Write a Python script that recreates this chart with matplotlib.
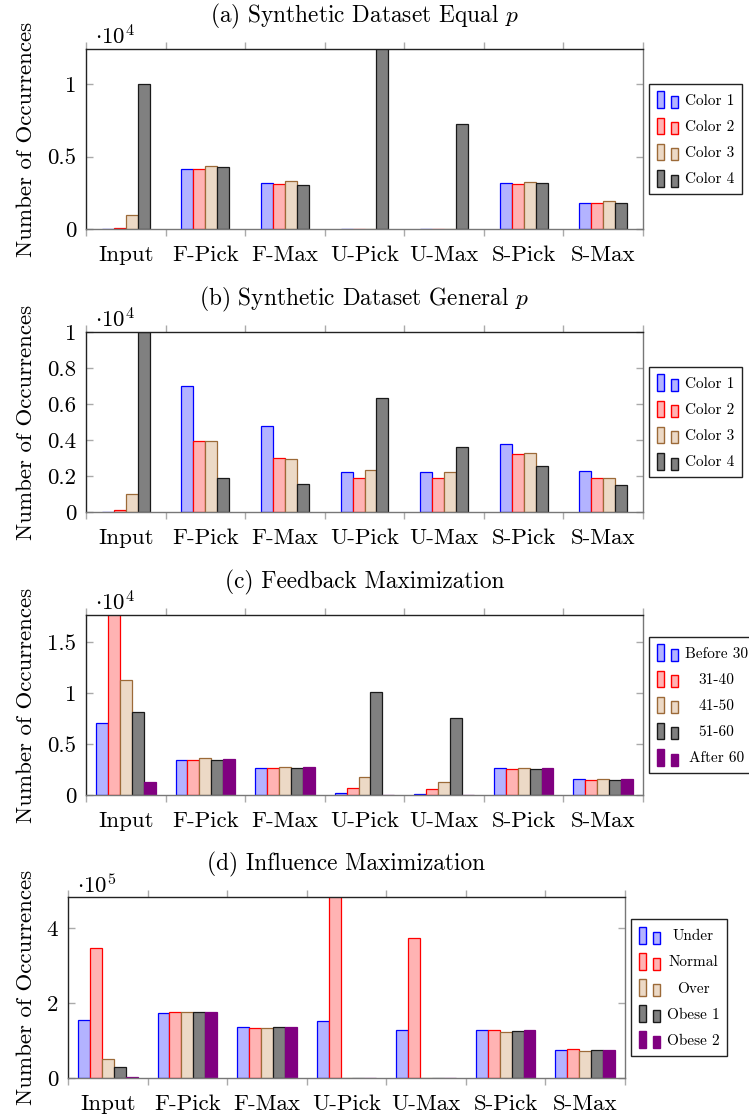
import numpy as np
import matplotlib
matplotlib.use('Agg')
import matplotlib.pyplot as plt
from matplotlib.container import BarContainer
from matplotlib.legend_handler import HandlerBase
from matplotlib.patches import Rectangle
from matplotlib.ticker import FuncFormatter

plt.rcParams['font.family'] = ['cmr10', 'DejaVu Serif']
plt.rcParams['mathtext.fontset'] = 'cm'
plt.rcParams['axes.formatter.use_mathtext'] = True

methods = ['Input', 'F-Pick', 'F-Max', 'U-Pick', 'U-Max', 'S-Pick', 'S-Max']

# (a) synthetic data, equal p
color1_a = [20, 4180, 3150, 15, 10, 3210, 1820]
color2_a = [90, 4130, 3120, 10, 10, 3080, 1790]
color3_a = [970, 4360, 3300, 10, 10, 3260, 1920]
color4_a = [10000, 4270, 3060, 12500, 7280, 3150, 1820]

# (b) synthetic data, general p
color1_b = [10, 7020, 4790, 2240, 2240, 3800, 2260]
color2_b = [130, 3940, 3000, 1890, 1890, 3220, 1890]
color3_b = [1000, 3940, 2940, 2330, 2200, 3260, 1890]
color4_b = [10000, 1870, 1560, 6310, 3590, 2570, 1500]

# (c) feedback maximization, age groups
before30 = [7060, 3430, 2650, 160, 100, 2610, 1570]
age31_40 = [17800, 3430, 2650, 690, 590, 2550, 1500]
age41_50 = [11240, 3590, 2750, 1760, 1240, 2610, 1570]
age51_60 = [8100, 3430, 2680, 10130, 7550, 2550, 1500]
after60 = [1240, 3560, 2750, 30, 30, 2610, 1570]

# (d) influence maximization, BMI groups
under = [154000, 174000, 134500, 152000, 128000, 129000, 75000]
normal = [345000, 176000, 133000, 490000, 374000, 128000, 76000]
over = [50000, 175000, 133000, 500, 500, 122000, 72000]
obese1 = [29000, 176000, 134500, 300, 300, 124000, 74000]
obese2 = [3600, 176000, 134500, 200, 200, 126500, 74000]

styles = [('#B3B3FF', '#0000FF'), ('#FFB3B3', '#FF0000'), ('#ECD9C6', '#9C6A38'),
          ('#808080', '#1A1A1A'), ('#800080', '#800080')]


class TwoBarHandler(HandlerBase):
    # pgfplots-like ybar legend image: a tall bar and a shorter one
    def create_artists(self, legend, orig_handle, xdescent, ydescent, width, height, fontsize, trans):
        patch = orig_handle.patches[0]
        fc, ec = patch.get_facecolor(), patch.get_edgecolor()
        w = width * 0.33
        r1 = Rectangle((-xdescent, -ydescent), w, height, fc=fc, ec=ec, lw=1, transform=trans)
        r2 = Rectangle((-xdescent + width - w, -ydescent), w, height * 0.72, fc=fc, ec=ec, lw=1,
                       transform=trans)
        return [r1, r2]


panels = [
    ('(a) Synthetic Dataset Equal $p$', [color1_a, color2_a, color3_a, color4_a],
     ['Color 1', 'Color 2', 'Color 3', 'Color 4'], 1e4, 4, 12450, [0, 5000, 10000],
     [86, 49, 229]),
    ('(b) Synthetic Dataset General $p$', [color1_b, color2_b, color3_b, color4_b],
     ['Color 1', 'Color 2', 'Color 3', 'Color 4'], 1e4, 4, 10000,
     [0, 2000, 4000, 6000, 8000, 10000], [86, 332, 512]),
    ('(c) Feedback Maximization', [before30, age31_40, age41_50, age51_60, after60],
     ['Before 30', '31-40', '41-50', '51-60', 'After 60'], 1e4, 4, 17650,
     [0, 5000, 10000, 15000], [86, 615, 795]),
    ('(d) Influence Maximization', [under, normal, over, obese1, obese2],
     ['Under', 'Normal', 'Over', 'Obese 1', 'Obese 2'], 1e5, 5, 482000,
     [0, 200000, 400000], [68, 897, 1078]),
]

W, H = 749, 1119
fig = plt.figure(figsize=(W / 100, H / 100), dpi=100)
x = np.arange(len(methods))
bw = 0.15
legends = []

for title, series, labels, scale, expo, ymax, yticks, (left, top, bottom) in panels:
    ax = fig.add_axes([left / W, 1 - bottom / H, 557 / W, (bottom - top) / H])
    n = len(series)
    for i, (vals, lab) in enumerate(zip(series, labels)):
        fc, ec = styles[i]
        ax.bar(x + (i - (n - 1) / 2) * bw, vals, bw, color=fc, edgecolor=ec, linewidth=0.9,
               label=lab, zorder=2)

    ax.set_xlim(-0.5, len(methods) - 0.5)
    ax.set_ylim(0, ymax)
    ax.set_xticks(np.arange(len(methods) + 1) - 0.5)
    ax.set_xticks(x, minor=True)
    ax.set_xticklabels(methods, minor=True)
    ax.tick_params(axis='x', which='major', direction='out', length=5, width=1, color='#AAAAAA',
                   top=True, labelbottom=False)
    ax.tick_params(axis='x', which='minor', length=0, labelsize=16.5, pad=12)
    ax.set_yticks(yticks)
    ax.yaxis.set_major_formatter(FuncFormatter(lambda v, _, s=scale: f'{v / s:g}'))
    ax.tick_params(axis='y', direction='in', length=5, width=1, color='#AAAAAA', right=True,
                   labelsize=16.5, pad=7)

    for side in ['top', 'left']:
        ax.spines[side].set_color('#222222')
    for side in ['right', 'bottom']:
        ax.spines[side].set_color('#777777')
    for sp in ax.spines.values():
        sp.set_linewidth(1)
        sp.set_zorder(3)

    ax.set_title(title, fontsize=16.8, pad=19)
    ax.annotate(r'$\cdot 10^{%d}$' % expo, xy=(0, 1), xycoords='axes fraction',
                xytext=(6.5, 3), textcoords='offset points', fontsize=16.5, va='baseline')
    ax.set_ylabel('Number of Occurrences', fontsize=16.5)
    ax.yaxis.set_label_coords((36 - left) / 557, 0.5)

    leg = ax.legend(handler_map={BarContainer: TwoBarHandler()}, loc='center left',
                    bbox_to_anchor=(1 + 6 / 557, 0.5), fontsize=11, handlelength=1.4,
                    handleheight=1.3, labelspacing=0.62, handletextpad=0.45, borderpad=0.5,
                    borderaxespad=0, fancybox=False, framealpha=1, edgecolor='#222222')
    leg.get_frame().set_linewidth(1)
    legends.append(leg)

# centre the legend labels in their column
fig.canvas.draw()
for leg in legends:
    texts = leg.get_texts()
    widths = [t.get_window_extent().width for t in texts]
    for t, w in zip(texts, widths):
        t.set_x((max(widths) - w) / 2)

fig.savefig('out.png', dpi=100)
